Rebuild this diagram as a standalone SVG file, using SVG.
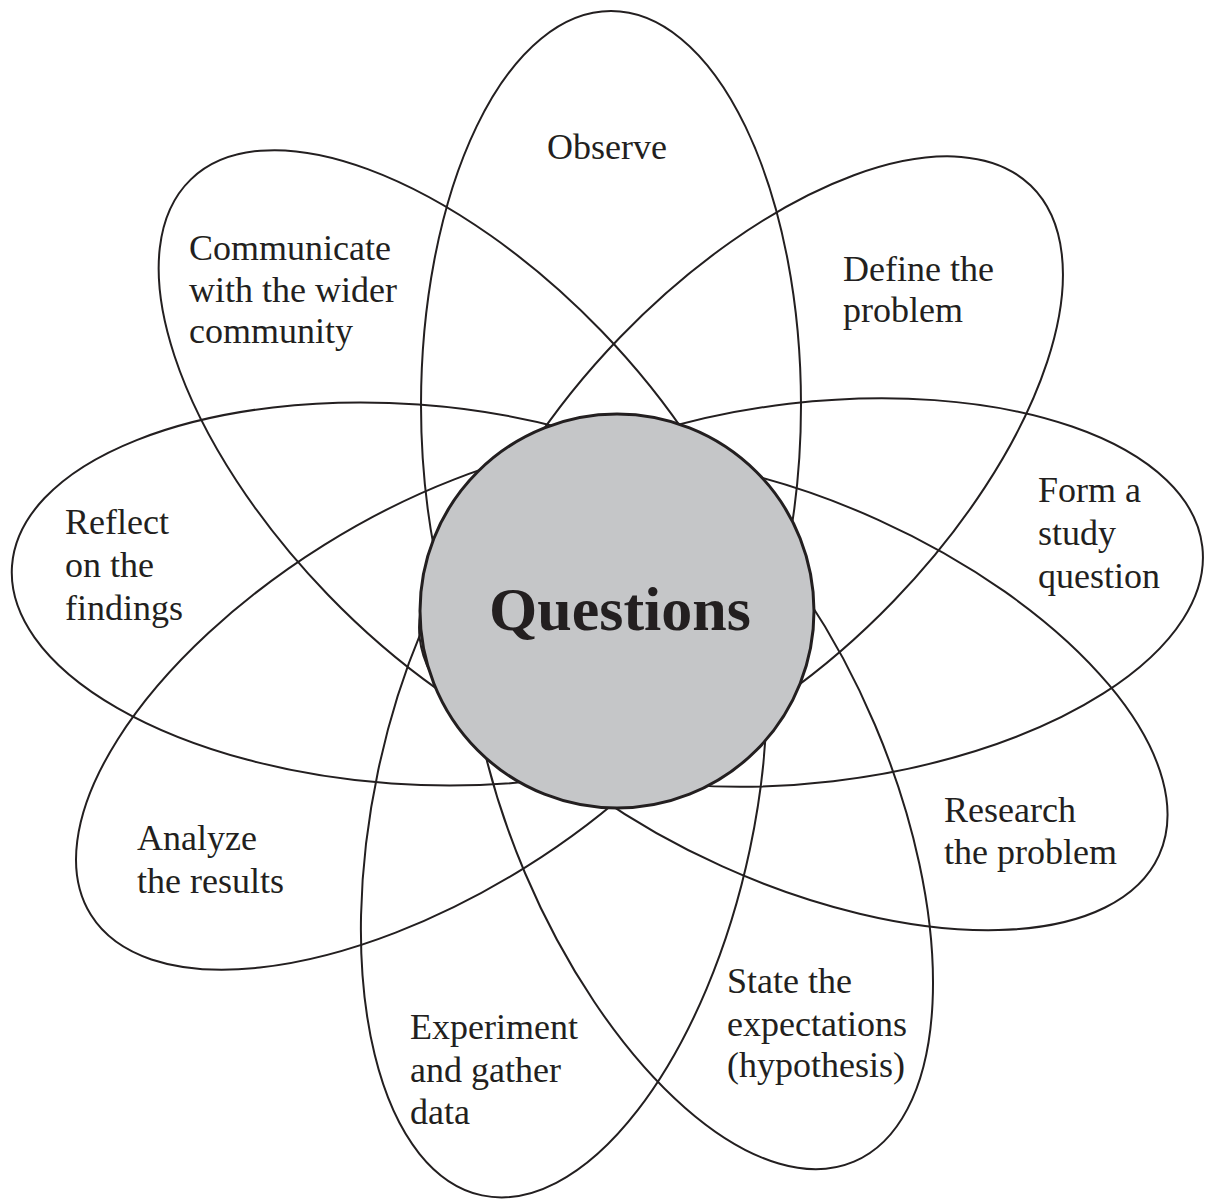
<svg xmlns="http://www.w3.org/2000/svg" width="1205" height="1199" viewBox="0 0 1205 1199">
<style>
.petal{fill:none;stroke:#231f20;stroke-width:2}
.lbl{font-family:"Liberation Serif","Times New Roman",serif;font-size:36px;fill:#231f20}
.hub{fill:#c5c6c8;stroke:#231f20;stroke-width:3}
.hubtxt{font-family:"Liberation Serif","Times New Roman",serif;font-size:62px;font-weight:bold;fill:#231f20;text-anchor:middle}
</style>
<rect width="1205" height="1199" fill="#ffffff"/>
<g id="observe">
<ellipse class="petal" cx="611" cy="405" rx="394" ry="190" transform="rotate(90 611 405)"/>
<text class="lbl" x="547" y="159">Observe</text>
</g>
<g id="define">
<ellipse class="petal" cx="757" cy="469" rx="394" ry="190" transform="rotate(-46 757 469)"/>
<text class="lbl" x="843" y="281">Define the</text>
<text class="lbl" x="843" y="322">problem</text>
</g>
<g id="form">
<ellipse class="petal" cx="811" cy="592.5" rx="394" ry="190" transform="rotate(-6.7 811 592.5)"/>
<text class="lbl" x="1038" y="502">Form a</text>
<text class="lbl" x="1038" y="545">study</text>
<text class="lbl" x="1038" y="588">question</text>
</g>
<g id="research">
<ellipse class="petal" cx="800" cy="693" rx="394" ry="190" transform="rotate(24.3 800 693)"/>
<text class="lbl" x="944" y="822">Research</text>
<text class="lbl" x="944" y="864">the problem</text>
</g>
<g id="state">
<ellipse class="petal" cx="700" cy="799" rx="394" ry="190" transform="rotate(67 700 799)"/>
<text class="lbl" x="727" y="993">State the</text>
<text class="lbl" x="727" y="1036">expectations</text>
<text class="lbl" x="727" y="1077">(hypothesis)</text>
</g>
<g id="experiment">
<ellipse class="petal" cx="564" cy="810" rx="394" ry="190" transform="rotate(102 564 810)"/>
<text class="lbl" x="410" y="1039">Experiment</text>
<text class="lbl" x="410" y="1082">and gather</text>
<text class="lbl" x="410" y="1124">data</text>
</g>
<g id="analyze">
<ellipse class="petal" cx="425" cy="706" rx="394" ry="190" transform="rotate(148 425 706)"/>
<text class="lbl" x="137" y="850">Analyze</text>
<text class="lbl" x="137" y="893">the results</text>
</g>
<g id="reflect">
<ellipse class="petal" cx="405" cy="594" rx="394" ry="190" transform="rotate(4.1 405 594)"/>
<text class="lbl" x="65" y="534">Reflect</text>
<text class="lbl" x="65" y="577">on the</text>
<text class="lbl" x="65" y="620">findings</text>
</g>
<g id="communicate">
<ellipse class="petal" cx="464.6" cy="462.8" rx="394" ry="190" transform="rotate(46 464.6 462.8)"/>
<text class="lbl" x="189" y="260">Communicate</text>
<text class="lbl" x="189" y="302">with the wider</text>
<text class="lbl" x="189" y="343">community</text>
</g>
<g id="connectors"></g>
<g id="questions">
<circle class="hub" cx="617" cy="611" r="197"/>
<text class="hubtxt" x="620" y="630">Questions</text>
</g>
</svg>
